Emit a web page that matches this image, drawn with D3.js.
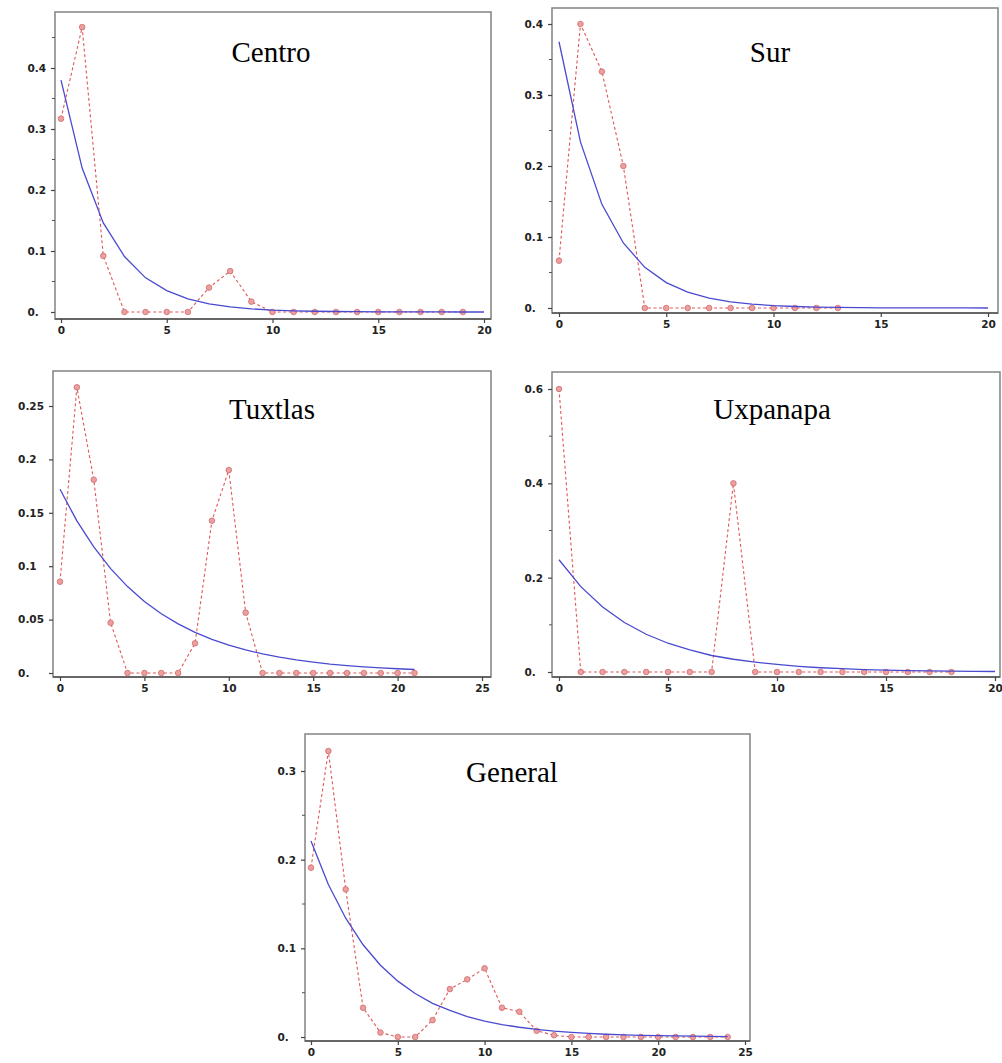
<!DOCTYPE html>
<html>
<head>
<meta charset="utf-8">
<title>Distribuciones</title>
<script src="https://cdn.jsdelivr.net/npm/d3@7"></script>
<style>
  body { margin: 0; background: #fff; }
  svg { display: block; }
</style>
</head>
<body>
<script>
// observed frequencies (red, dashed) and fitted geometric curve (blue)
var obsCentro = [0.317, 0.467, 0.092, 0, 0, 0, 0, 0.04, 0.067, 0.017, 0, 0, 0, 0, 0, 0, 0, 0, 0, 0];
var fitCentro = [0.38, 0.236, 0.146, 0.091, 0.056, 0.035, 0.0216, 0.0134, 0.0083, 0.0052, 0.0032,
                 0.002, 0.0012, 0.0008, 0.0005, 0.0003, 0.0002, 0.0001, 0.0001, 0.00004, 0.00003];

var obsSur = [0.0667, 0.4, 0.333, 0.2, 0, 0, 0, 0, 0, 0, 0, 0, 0, 0];
var fitSur = [0.375, 0.234, 0.146, 0.0916, 0.0572, 0.0358, 0.0224, 0.014, 0.0087, 0.0055, 0.0034,
              0.0021, 0.0013, 0.0008, 0.0005, 0.0003, 0.0002, 0.0001, 0.0001, 0.0001, 0.00003];

var obsTuxtlas = [0.0855, 0.2675, 0.181, 0.047, 0, 0, 0, 0, 0.0278, 0.1426, 0.19, 0.0565,
                  0, 0, 0, 0, 0, 0, 0, 0, 0, 0];
var fitTuxtlas = [0.172, 0.1424, 0.118, 0.0977, 0.0809, 0.067, 0.0555, 0.046, 0.038, 0.0315, 0.026,
                  0.0216, 0.0179, 0.0148, 0.0123, 0.0102, 0.0084, 0.007, 0.0058, 0.0048, 0.004, 0.0033];

var obsUxpanapa = [0.6, 0, 0, 0, 0, 0, 0, 0, 0.4, 0, 0, 0, 0, 0, 0, 0, 0, 0, 0];
var fitUxpanapa = [0.238, 0.181, 0.138, 0.105, 0.08, 0.061, 0.047, 0.035, 0.027, 0.021, 0.016,
                   0.012, 0.009, 0.007, 0.005, 0.004, 0.003, 0.0025, 0.0019, 0.0014, 0.0011];

var obsGeneral = [0.191, 0.3225, 0.1665, 0.033, 0.005, 0, 0, 0.019, 0.054, 0.065, 0.0775, 0.033,
                  0.0285, 0.007, 0.002, 0, 0, 0, 0, 0, 0, 0, 0, 0, 0];
var fitGeneral = [0.221, 0.172, 0.134, 0.104, 0.081, 0.063, 0.049, 0.038, 0.03, 0.023, 0.018, 0.014,
                  0.011, 0.0085, 0.0066, 0.0052, 0.004, 0.0031, 0.0024, 0.0019, 0.0015, 0.0012,
                  0.0009, 0.0007, 0.0005];

// tick labels
var xTicks20 = [0, 5, 10, 15, 20];
var xTicks25 = [0, 5, 10, 15, 20, 25];
var yTicksCentro = [0, 0.1, 0.2, 0.3, 0.4];
var yMinorCentro = [0.05, 0.15, 0.25, 0.35, 0.45];
var yTicksSur = [0, 0.1, 0.2, 0.3, 0.4];
var yMinorSur = [0.05, 0.15, 0.25, 0.35];
var yTicksTuxtlas = [0, 0.05, 0.1, 0.15, 0.2, 0.25];
var yMinorTuxtlas = [];
var yTicksUxpanapa = [0, 0.2, 0.4, 0.6];
var yMinorUxpanapa = [0.1, 0.3, 0.5];
var yTicksGeneral = [0, 0.1, 0.2, 0.3];
var yMinorGeneral = [0.05, 0.15, 0.25];

// layout of each panel (pixel positions only)
var panels = [
  { title: "Centro", obs: obsCentro, fit: fitCentro, xt: xTicks20, yt: yTicksCentro, ym: yMinorCentro,
    box: { l: 55, r: 491, t: 12, b: 319 }, xd: [0, 20], xr: [61, 484], yd: [0, 0.4], yr: [312, 68], tx: 271, ty: 62 },
  { title: "Sur", obs: obsSur, fit: fitSur, xt: xTicks20, yt: yTicksSur, ym: yMinorSur,
    box: { l: 552, r: 998, t: 8, b: 313 }, xd: [0, 20], xr: [559, 988], yd: [0, 0.4], yr: [308, 24], tx: 770, ty: 62 },
  { title: "Tuxtlas", obs: obsTuxtlas, fit: fitTuxtlas, xt: xTicks25, yt: yTicksTuxtlas, ym: yMinorTuxtlas,
    box: { l: 53, r: 491, t: 371, b: 677 }, xd: [0, 25], xr: [60, 482], yd: [0, 0.25], yr: [673, 406], tx: 272, ty: 419 },
  { title: "Uxpanapa", obs: obsUxpanapa, fit: fitUxpanapa, xt: xTicks20, yt: yTicksUxpanapa, ym: yMinorUxpanapa,
    box: { l: 552, r: 1000, t: 372, b: 677 }, xd: [0, 20], xr: [559, 995], yd: [0, 0.6], yr: [672, 389], tx: 772, ty: 419 },
  { title: "General", obs: obsGeneral, fit: fitGeneral, xt: xTicks25, yt: yTicksGeneral, ym: yMinorGeneral,
    box: { l: 305, r: 750, t: 734, b: 1041 }, xd: [0, 25], xr: [311, 745], yd: [0, 0.3], yr: [1037, 771], tx: 512, ty: 782 }
];

var svg = d3.select("body").append("svg").attr("width", 1002).attr("height", 1063);

function fmt(v) {
  return v === 0 ? "0." : String(v);
}

panels.forEach(function(p) {
  var g = svg.append("g");
  var x = d3.scaleLinear().domain(p.xd).range(p.xr);
  var y = d3.scaleLinear().domain(p.yd).range(p.yr);
  var b = p.box;

  // frame
  g.append("rect").attr("x", b.l).attr("y", b.t).attr("width", b.r - b.l).attr("height", b.b - b.t)
    .attr("fill", "none").attr("stroke", "#8a8a8a").attr("stroke-width", 1.6);
  g.append("line").attr("x1", b.l).attr("x2", b.r).attr("y1", b.b).attr("y2", b.b)
    .attr("stroke", "#555").attr("stroke-width", 1.6);

  // y axis
  var ya = g.append("g").attr("transform", "translate(" + b.l + ",0)")
    .call(d3.axisLeft(y).tickValues(p.yt).tickFormat(fmt).tickSize(4).tickPadding(6).tickSizeOuter(0));
  ya.select(".domain").remove();
  ya.selectAll("line").attr("stroke", "#444").attr("stroke-width", 1.2);
  var texts = ya.selectAll("text").attr("font-family", "DejaVu Sans").attr("font-weight", "bold")
    .attr("font-size", 10.5).attr("fill", "#222").attr("text-anchor", "start");
  var maxW = 0;
  texts.each(function() { maxW = Math.max(maxW, this.getComputedTextLength()); });
  texts.attr("x", -9 - maxW);
  g.selectAll(".ymin").data(p.ym).enter().append("line")
    .attr("x1", b.l - 3).attr("x2", b.l).attr("y1", function(d) { return y(d); }).attr("y2", function(d) { return y(d); })
    .attr("stroke", "#555").attr("stroke-width", 1);

  // x axis
  var xa = g.append("g").attr("transform", "translate(0," + b.b + ")")
    .call(d3.axisBottom(x).tickValues(p.xt).tickFormat(d3.format("d")).tickSize(4).tickPadding(4).tickSizeOuter(0));
  xa.select(".domain").remove();
  xa.selectAll("line").attr("stroke", "#444").attr("stroke-width", 1.2);
  xa.selectAll("text").attr("font-family", "DejaVu Sans").attr("font-weight", "bold")
    .attr("font-size", 10.5).attr("fill", "#222");

  // observed: red dashed with markers
  var line = d3.line().x(function(d, i) { return x(i); }).y(function(d) { return y(d); });
  g.append("path").datum(p.obs).attr("d", line).attr("fill", "none")
    .attr("stroke", "#e05858").attr("stroke-width", 1.1).attr("stroke-dasharray", "3,2.5");
  g.selectAll(".pt").data(p.obs).enter().append("circle")
    .attr("cx", function(d, i) { return x(i); }).attr("cy", function(d) { return y(d); })
    .attr("r", 2.8).attr("fill", "#eaa0a0").attr("stroke", "#d36a6a").attr("stroke-width", 0.8);

  // fitted: blue solid
  g.append("path").datum(p.fit).attr("d", line).attr("fill", "none")
    .attr("stroke", "#4a4ad0").attr("stroke-width", 1.3);

  // title
  g.append("text").attr("x", p.tx).attr("y", p.ty).attr("text-anchor", "middle")
    .attr("font-family", "Liberation Serif").attr("font-size", 29).attr("fill", "#000")
    .text(p.title);
});
</script>
</body>
</html>
